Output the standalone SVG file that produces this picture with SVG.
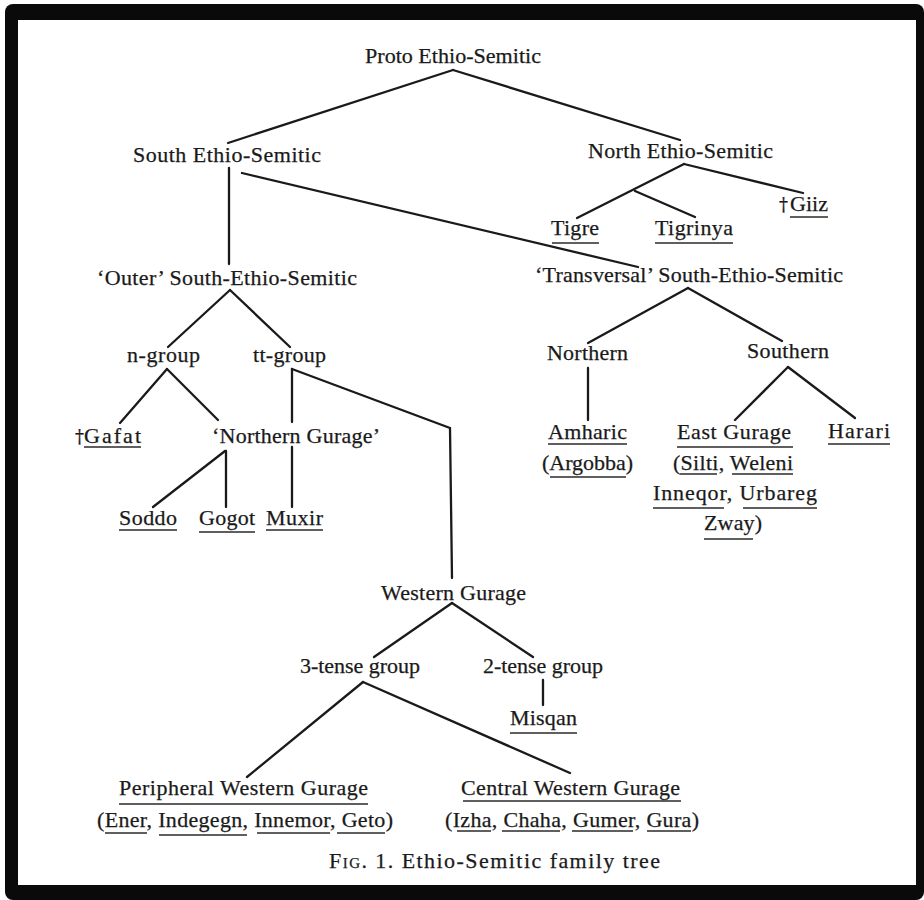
<svg xmlns="http://www.w3.org/2000/svg" width="924" height="900" viewBox="0 0 924 900">
<style>
.t{font-family:"Liberation Serif","Times New Roman",serif;font-size:22px;fill:#1a1a1a;stroke:#1a1a1a;stroke-width:0.25}
.d{font-family:"DejaVu Serif",serif;font-size:18px}
.c line,.c polyline{stroke:#1a1a1a;stroke-width:2.3;fill:none;stroke-linecap:round}
.u line{stroke:#2a2a2a;stroke-width:1.5}
</style>
<rect x="0" y="0" width="924" height="900" fill="#ffffff"/>
<rect x="5" y="4" width="919" height="896" rx="8" fill="#0a0a0a"/>
<rect x="18" y="20" width="898" height="865" fill="#ffffff"/>

<g class="c" id="connectors">
<line x1="453" y1="70" x2="228" y2="143"/>
<line x1="453" y1="70" x2="680" y2="140"/>
<line x1="229" y1="168" x2="229" y2="264"/>
<line x1="242" y1="173" x2="638" y2="267"/>
<line x1="684" y1="164" x2="577" y2="218"/>
<line x1="635" y1="191" x2="695" y2="217"/>
<line x1="684" y1="164" x2="803" y2="193"/>
<line x1="230" y1="290" x2="168" y2="347"/>
<line x1="230" y1="290" x2="290" y2="347"/>
<line x1="688" y1="288" x2="588" y2="343"/>
<line x1="688" y1="288" x2="782" y2="341"/>
<line x1="167" y1="369" x2="120" y2="423"/>
<line x1="167" y1="369" x2="218" y2="420"/>
<line x1="292" y1="369" x2="292" y2="422"/>
<polyline points="292,369 450,428 452,578"/>
<line x1="588" y1="368" x2="588" y2="420"/>
<line x1="788" y1="367" x2="735" y2="420"/>
<line x1="788" y1="367" x2="855" y2="418"/>
<line x1="225" y1="451" x2="153" y2="507"/>
<line x1="226" y1="451" x2="226" y2="507"/>
<line x1="292" y1="447" x2="292" y2="507"/>
<line x1="452" y1="603" x2="374" y2="657"/>
<line x1="452" y1="603" x2="533" y2="657"/>
<line x1="543" y1="680" x2="543" y2="705"/>
<line x1="363" y1="682" x2="247" y2="777"/>
<line x1="363" y1="682" x2="570" y2="773"/>
</g>

<g id="proto"><text class="t" x="365" y="63" textLength="176" lengthAdjust="spacingAndGlyphs">Proto Ethio-Semitic</text></g>
<g id="south"><text class="t" x="133" y="162" textLength="188" lengthAdjust="spacing">South Ethio-Semitic</text></g>
<g id="north"><text class="t" x="588" y="158" textLength="185" lengthAdjust="spacing">North Ethio-Semitic</text></g>
<g id="tigre" class="u"><text class="t" x="551" y="235" textLength="48" lengthAdjust="spacing">Tigre</text><line x1="552" y1="243" x2="599" y2="243"/></g>
<g id="tigrinya" class="u"><text class="t" x="655" y="235" textLength="78" lengthAdjust="spacing">Tigrinya</text><line x1="655" y1="243" x2="733" y2="243"/></g>
<g id="giiz" class="u"><text class="t" x="779" y="211"><tspan class="d">†</tspan></text><text class="t" x="790" y="211" textLength="38" lengthAdjust="spacing">Giiz</text><line x1="790" y1="217" x2="828" y2="217"/></g>
<g id="outer"><text class="t" x="97" y="285" textLength="260" lengthAdjust="spacing">‘Outer’ South-Ethio-Semitic</text></g>
<g id="transversal"><text class="t" x="535" y="282" textLength="308" lengthAdjust="spacing">‘Transversal’ South-Ethio-Semitic</text></g>
<g id="ngroup"><text class="t" x="127" y="362" textLength="73" lengthAdjust="spacing">n-group</text></g>
<g id="ttgroup"><text class="t" x="253" y="362" textLength="73" lengthAdjust="spacing">tt-group</text></g>
<g id="northern"><text class="t" x="547" y="360" textLength="81" lengthAdjust="spacing">Northern</text></g>
<g id="southern"><text class="t" x="747" y="358" textLength="82" lengthAdjust="spacing">Southern</text></g>
<g id="gafat" class="u"><text class="t" x="75" y="443"><tspan class="d">†</tspan></text><text class="t" x="84" y="443" textLength="57" lengthAdjust="spacing">Gafat</text><line x1="84" y1="447" x2="141" y2="447"/></g>
<g id="northern-gurage"><text class="t" x="212" y="443" textLength="168" lengthAdjust="spacing">‘Northern Gurage’</text></g>
<g id="amharic" class="u"><text class="t" x="548" y="439" textLength="79" lengthAdjust="spacing">Amharic</text><line x1="548" y1="444" x2="627" y2="444"/><text class="t" x="542" y="470" textLength="91" lengthAdjust="spacing">(Argobba)</text><line x1="550" y1="477" x2="626" y2="477"/></g>
<g id="east-gurage" class="u"><text class="t" x="677" y="439" textLength="114" lengthAdjust="spacing">East Gurage</text><line x1="677" y1="447" x2="793" y2="447"/>
<text class="t" x="673" y="470" textLength="120" lengthAdjust="spacing">(Silti, Weleni</text><line x1="680" y1="474" x2="717" y2="474"/><line x1="732" y1="474" x2="793" y2="474"/>
<text class="t" x="653" y="500" textLength="164" lengthAdjust="spacing">Inneqor, Urbareg</text><line x1="653" y1="508" x2="724" y2="508"/><line x1="743" y1="508" x2="817" y2="508"/>
<text class="t" x="704" y="530" textLength="58" lengthAdjust="spacing">Zway)</text><line x1="704" y1="539" x2="753" y2="539"/></g>
<g id="harari" class="u"><text class="t" x="828" y="438" textLength="62" lengthAdjust="spacing">Harari</text><line x1="828" y1="444" x2="890" y2="444"/></g>
<g id="soddo" class="u"><text class="t" x="119" y="525" textLength="58" lengthAdjust="spacing">Soddo</text><line x1="119" y1="530" x2="177" y2="530"/></g>
<g id="gogot" class="u"><text class="t" x="199" y="525" textLength="56" lengthAdjust="spacing">Gogot</text><line x1="199" y1="532" x2="255" y2="532"/></g>
<g id="muxir" class="u"><text class="t" x="266" y="525" textLength="57" lengthAdjust="spacing">Muxir</text><line x1="266" y1="530" x2="323" y2="530"/></g>
<g id="western-gurage"><text class="t" x="381" y="600" textLength="145" lengthAdjust="spacing">Western Gurage</text></g>
<g id="three-tense"><text class="t" x="300" y="673" textLength="120" lengthAdjust="spacing">3-tense group</text></g>
<g id="two-tense"><text class="t" x="483" y="673" textLength="120" lengthAdjust="spacing">2-tense group</text></g>
<g id="misqan" class="u"><text class="t" x="510" y="725" textLength="67" lengthAdjust="spacing">Misqan</text><line x1="510" y1="733" x2="577" y2="733"/></g>
<g id="peripheral" class="u"><text class="t" x="119" y="795" textLength="249" lengthAdjust="spacing">Peripheral Western Gurage</text><line x1="119" y1="804" x2="368" y2="804"/>
<text class="t" x="97" y="827" textLength="296" lengthAdjust="spacing">(Ener, Indegegn, Innemor, Geto)</text><line x1="105" y1="833" x2="147" y2="833"/><line x1="159" y1="835" x2="247" y2="835"/><line x1="257" y1="833" x2="330" y2="833"/><line x1="337" y1="833" x2="385" y2="833"/></g>
<g id="central" class="u"><text class="t" x="461" y="795" textLength="219" lengthAdjust="spacing">Central Western Gurage</text><line x1="463" y1="801" x2="681" y2="801"/>
<text class="t" x="445" y="827" textLength="254" lengthAdjust="spacing">(Izha, Chaha, Gumer, Gura)</text><line x1="457" y1="831" x2="491" y2="831"/><line x1="502" y1="831" x2="560" y2="831"/><line x1="572" y1="831" x2="633" y2="831"/><line x1="647" y1="831" x2="691" y2="831"/></g>
<g id="caption"><text class="t" x="329" y="868" textLength="331" lengthAdjust="spacing"><tspan style="font-variant:small-caps">Fig. 1.</tspan> Ethio-Semitic family tree</text></g>
</svg>
